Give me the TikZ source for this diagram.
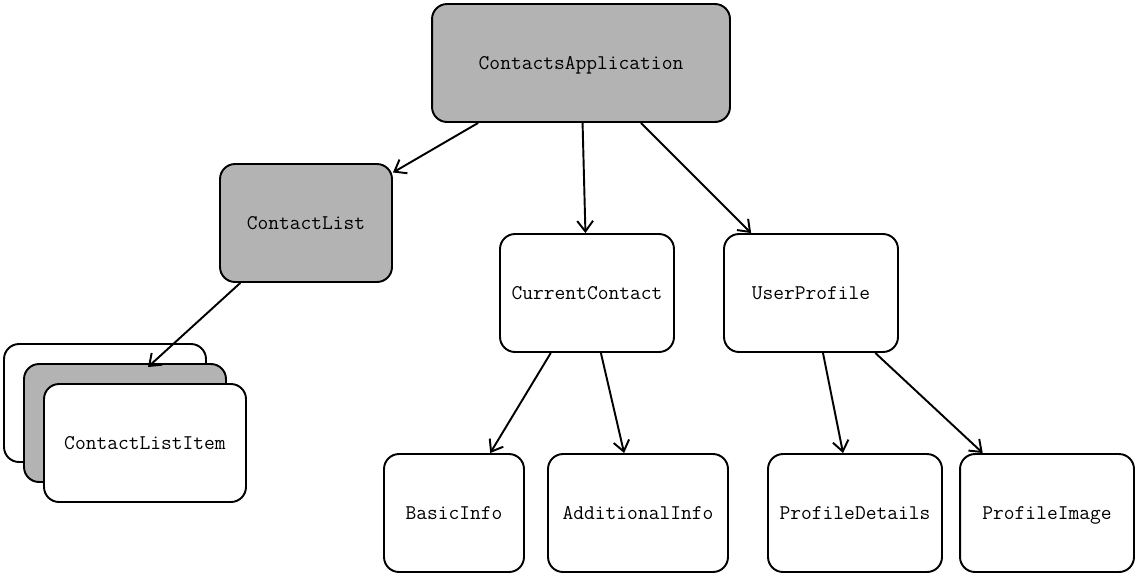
\documentclass[tikz,border=0pt]{standalone}
\usepackage{fontspec}
\usetikzlibrary{arrows.meta}
\definecolor{boxgrey}{HTML}{B3B3B3}

\begin{document}
\begin{tikzpicture}[
    x=0.02cm, y=-0.02cm,
    every node/.style={draw, line width=1.1pt, rounded corners=0.3cm, fill=white,
      inner sep=0pt, minimum height=2.36cm, text height=0.8em, text depth=0.1em,
      font=\ttfamily\fontsize{11.9}{14}\selectfont},
    grey/.style={fill=boxgrey},
    every path/.style={line width=1.1pt},
    link/.style={-{Straight Barb[length=6pt,width=9pt,line width=1.1pt]}}
  ]
  \useasboundingbox (0,0) rectangle (1138,576);

  \node[grey, minimum width=5.96cm] (app) at (581,63) {ContactsApplication};
  \node[grey, minimum width=3.44cm] (list) at (306,223) {ContactList};
  \node[minimum width=3.48cm] (current) at (587,293) {CurrentContact};
  \node[minimum width=3.48cm] (profile) at (811,293) {UserProfile};

  % stacked list items
  \node[minimum width=4.04cm] (itemback) at (105,403) {};
  \node[grey, minimum width=4.04cm] (itemmid) at (125,423) {};
  \node[minimum width=4.04cm] (item) at (145,443) {ContactListItem};

  \node[minimum width=2.8cm] (basic) at (454,513) {BasicInfo};
  \node[minimum width=3.6cm] (additional) at (638,513) {AdditionalInfo};
  \node[minimum width=3.48cm] (details) at (855,513) {ProfileDetails};
  \node[minimum width=3.48cm] (image) at (1047,513) {ProfileImage};

  \coordinate (itemtip) at (148,367);

  \draw[link] (app) -- (list);
  \draw[link] (app) -- (current);
  \draw[link] (app) -- (profile);
  \draw[link] (list) -- (itemtip);
  \draw[link] (current) -- (basic);
  \draw[link] (current) -- (additional);
  \draw[link] (profile) -- (details);
  \draw[link] (profile) -- (image);
\end{tikzpicture}
\end{document}
